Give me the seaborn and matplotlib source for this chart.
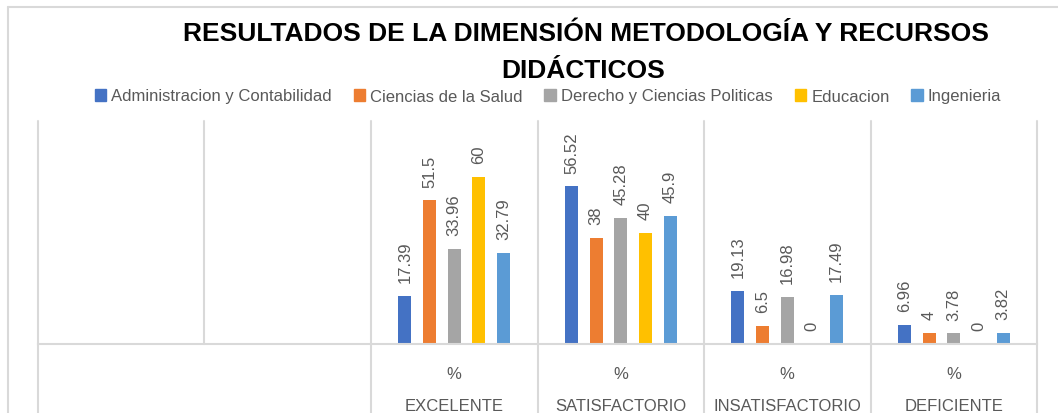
import matplotlib
matplotlib.use("Agg")
import numpy as np
import pandas as pd
import matplotlib.pyplot as plt
import matplotlib.patches as mpatches
import matplotlib.transforms as mtransforms
from matplotlib.lines import Line2D
import seaborn as sns

categorias = ["EXCELENTE", "SATISFACTORIO", "INSATISFACTORIO", "DEFICIENTE"]
carreras = ["Administracion y Contabilidad", "Ciencias de la Salud",
            "Derecho y Ciencias Politicas", "Educacion", "Ingenieria"]
admin = [17.39, 56.52, 19.13, 6.96]
salud = [51.5, 38, 6.5, 4]
derecho = [33.96, 45.28, 16.98, 3.78]
educacion = [60, 40, 0, 0]
ingenieria = [32.79, 45.9, 17.49, 3.82]
colores = ["#4472C4", "#ED7D31", "#A5A5A5", "#FFC000", "#5B9BD5"]

sns.set_style("white")
plt.rcParams['font.family'] = ['Liberation Sans', 'DejaVu Sans']

df = pd.DataFrame({"Nivel": categorias,
                   carreras[0]: admin, carreras[1]: salud, carreras[2]: derecho,
                   carreras[3]: educacion, carreras[4]: ingenieria})
df = df.melt(id_vars="Nivel", var_name="Carrera", value_name="Porcentaje")

fig = plt.figure(figsize=(10.58, 4.14), dpi=100)
ax = fig.add_axes([38 / 1058, 69 / 414, 999 / 1058, 223 / 414])

sns.barplot(data=df, x="Nivel", y="Porcentaje", hue="Carrera", order=categorias,
            hue_order=carreras, palette=colores, saturation=1, width=0.74, gap=0.47,
            linewidth=0, legend=False, ax=ax)

gris = "#595959"
linea = "#D9D9D9"
for cont in ax.containers:
    ax.bar_label(cont, labels=[f"{v:g}" for v in cont.datavalues], rotation=90,
                 padding=10, color=gris, fontsize=12)

ax.set_xlim(-2.5, 3.5)
ax.set_ylim(0, 80)
ax.set_yticks([])
ax.set_xlabel("")
ax.set_ylabel("")
for s in ["top", "left", "right"]:
    ax.spines[s].set_visible(False)
ax.spines["bottom"].set_color(linea)
ax.spines["bottom"].set_linewidth(1.5)

ax.set_xticks(range(len(categorias)))
ax.set_xticklabels(["%"] * len(categorias), color=gris, fontsize=12)
ax.tick_params(axis="x", length=0, pad=16)

trans = mtransforms.blended_transform_factory(ax.transData, ax.transAxes)
for i, c in enumerate(categorias):
    ax.text(i, -0.275, c, transform=trans, ha="center", va="center",
            color=gris, fontsize=12)

for x in np.arange(-2.5, 4.0, 1.0):
    ax.plot([x, x], [0, 1], transform=trans, color=linea, lw=1.5, clip_on=False)
    if x != -1.5:
        ax.plot([x, x], [0, -0.32], transform=trans, color=linea, lw=1.5, clip_on=False)

# borde del area del grafico
fig.add_artist(Line2D([8 / 1058, 8 / 1058], [0, 1 - 8 / 414], color=linea, lw=1.5))
fig.add_artist(Line2D([8 / 1058, 1], [1 - 8 / 414, 1 - 8 / 414], color=linea, lw=1.5))

fig.text(586 / 1058, 1 - 34 / 414, "RESULTADOS DE LA DIMENSIÓN METODOLOGÍA Y RECURSOS",
         ha="center", va="center", fontsize=19, fontweight="bold", color="black")
fig.text(583 / 1058, 1 - 71 / 414, "DIDÁCTICOS",
         ha="center", va="center", fontsize=19, fontweight="bold", color="black")

handles = [mpatches.Patch(color=c, label=l) for c, l in zip(colores, carreras)]
fig.legend(handles=handles, loc="center", bbox_to_anchor=(548 / 1058, 1 - 97 / 414),
           ncol=5, frameon=False, fontsize=12, handlelength=0.7, handleheight=0.7,
           handletextpad=0.3, columnspacing=1.3, labelcolor=gris)

fig.savefig("out.png", dpi=100)
